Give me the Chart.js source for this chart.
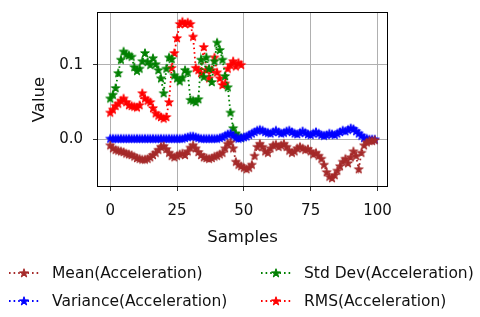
<!DOCTYPE html>
<html>
<head>
<meta charset="utf-8">
<script src="https://cdn.jsdelivr.net/npm/chart.js@4.4.1/dist/chart.umd.min.js"></script>
<style>
  body { margin: 0; background: #fff; }
  #wrap { position: relative; width: 480px; height: 317px; font-family: "DejaVu Sans", sans-serif; }
  #legend { position: absolute; left: 0; top: 0; width: 480px; height: 317px; pointer-events: none; }
  .item { position: absolute; display: flex; align-items: center; font-size: 15.5px; color: #111; white-space: nowrap; }
  .item canvas { margin-right: 12px; }
</style>
</head>
<body>
<div id="wrap">
  <canvas id="chart" width="480" height="317"></canvas>
  <div id="legend"></div>
</div>
<script>
// valores
const xTicks = [0, 25, 50, 75, 100];
const yTicks = [0.0, 0.1];

const meanAcc = [
  -0.008, -0.012, -0.014, -0.015, -0.016, -0.017, -0.019, -0.020, -0.021, -0.023,
  -0.025, -0.026, -0.027, -0.027, -0.026, -0.024, -0.021, -0.018, -0.014, -0.010,
  -0.009, -0.013, -0.018, -0.022, -0.024, -0.022, -0.020, -0.019, -0.021, -0.016,
  -0.011, -0.008, -0.012, -0.017, -0.021, -0.024, -0.025, -0.026, -0.025, -0.023,
  -0.022, -0.020, -0.018, -0.012, -0.006, -0.004, -0.012, -0.030, -0.034, -0.036,
  -0.038, -0.040, -0.038, -0.034, -0.022, -0.010, -0.006, -0.010, -0.016, -0.018,
  -0.012, -0.008, -0.007, -0.010, -0.008, -0.006, -0.010, -0.015, -0.018, -0.016,
  -0.012, -0.010, -0.012, -0.014, -0.013, -0.016, -0.020, -0.018, -0.022, -0.026,
  -0.034, -0.044, -0.050, -0.052, -0.048, -0.042, -0.036, -0.030, -0.026, -0.032,
  -0.024, -0.016, -0.022, -0.040, -0.018, -0.008, -0.004, -0.002, -0.002, -0.001
];

const varianceAcc = [
  0.001, 0.001, 0.001, 0.001, 0.001, 0.001, 0.001, 0.001, 0.001, 0.001,
  0.001, 0.001, 0.001, 0.001, 0.001, 0.001, 0.001, 0.001, 0.001, 0.001,
  0.001, 0.001, 0.001, 0.001, 0.001, 0.001, 0.001, 0.001, 0.002, 0.003,
  0.004, 0.004, 0.003, 0.002, 0.001, 0.001, 0.001, 0.001, 0.001, 0.001,
  0.001, 0.002, 0.003, 0.005, 0.007, 0.008, 0.005, 0.002, 0.001, 0.002,
  0.003, 0.004, 0.006, 0.008, 0.010, 0.012, 0.013, 0.012, 0.010, 0.009,
  0.008, 0.010, 0.012, 0.010, 0.008, 0.009, 0.011, 0.012, 0.010, 0.008,
  0.007, 0.009, 0.011, 0.009, 0.007, 0.006, 0.008, 0.010, 0.008, 0.006,
  0.005, 0.006, 0.008, 0.007, 0.006, 0.008, 0.010, 0.012, 0.011, 0.013,
  0.015, 0.014, 0.011, 0.008, 0.005, 0.002, 0.001, 0.000, 0.000, 0.000
];

const stdDevAcc = [
  0.055, 0.060, 0.069, 0.089, 0.107, 0.118, 0.114, 0.113, 0.111, 0.097,
  0.092, 0.095, 0.105, 0.116, 0.104, 0.100, 0.109, 0.101, 0.093, 0.082,
  0.062, 0.095, 0.110, 0.108, 0.086, 0.082, 0.078, 0.083, 0.093, 0.090,
  0.053, 0.052, 0.050, 0.054, 0.107, 0.084, 0.110, 0.095, 0.077, 0.105,
  0.130, 0.120, 0.107, 0.085, 0.070, 0.036, 0.015, 0.008, 0.004, 0.002
];

const rmsAcc = [
  0.036, 0.040, 0.045, 0.048, 0.052, 0.055, 0.050, 0.046, 0.045, 0.044,
  0.043, 0.046, 0.062, 0.055, 0.052, 0.050, 0.042, 0.035, 0.032, 0.030,
  0.028, 0.030, 0.050, 0.096, 0.116, 0.136, 0.155, 0.158, 0.155, 0.157,
  0.155, 0.138, 0.096, 0.093, 0.089, 0.124, 0.093, 0.082, 0.093, 0.110,
  0.090, 0.082, 0.073, 0.075, 0.095, 0.100, 0.105, 0.098, 0.103, 0.100
];

const seriesNames = ['Mean(Acceleration)', 'Variance(Acceleration)', 'Std Dev(Acceleration)', 'RMS(Acceleration)'];
const seriesColors = ['#a52a2a', '#0000ff', '#008000', '#ff0000'];
const seriesData = [meanAcc, varianceAcc, stdDevAcc, rmsAcc];

// estrella rellena tipo matplotlib '*'
function makeStar(color) {
  const c = document.createElement('canvas');
  c.width = 12; c.height = 12;
  const ctx = c.getContext('2d');
  const R = 4.6, r = R * 0.382;
  ctx.beginPath();
  for (let k = 0; k < 10; k++) {
    const rad = k % 2 === 0 ? R : r;
    const a = -Math.PI / 2 + k * Math.PI / 5;
    const px = 6 + rad * Math.cos(a), py = 6.3 + rad * Math.sin(a);
    if (k === 0) ctx.moveTo(px, py); else ctx.lineTo(px, py);
  }
  ctx.closePath();
  ctx.fillStyle = color;
  ctx.fill();
  ctx.lineWidth = 1;
  ctx.strokeStyle = color;
  ctx.stroke();
  return c;
}

const datasets = seriesData.map((arr, k) => ({
  label: seriesNames[k],
  data: arr.map((v, i) => ({ x: i, y: v })),
  borderColor: seriesColors[k],
  backgroundColor: seriesColors[k],
  borderWidth: 1.8,
  borderDash: [1.6, 3],
  pointStyle: makeStar(seriesColors[k]),
  tension: 0
}));

// marco completo del área del gráfico
const framePlugin = {
  id: 'frame',
  afterDraw(chart) {
    const { ctx, chartArea: a } = chart;
    ctx.save();
    ctx.strokeStyle = '#000';
    ctx.lineWidth = 1;
    ctx.strokeRect(a.left + 0.5, a.top + 0.5, a.right - a.left - 1, a.bottom - a.top - 1);
    ctx.restore();
  }
};

new Chart(document.getElementById('chart'), {
  type: 'line',
  data: { datasets },
  plugins: [framePlugin],
  options: {
    responsive: false,
    animation: false,
    layout: { padding: { left: 26, top: 12, right: 92, bottom: 65 } },
    plugins: { legend: { display: false }, tooltip: { enabled: false } },
    scales: {
      x: {
        type: 'linear',
        min: -4.95,
        max: 103.95,
        afterBuildTicks: s => { s.ticks = xTicks.map(v => ({ value: v })); },
        afterFit: s => { s.height = 65; s.paddingLeft = 0; s.paddingRight = 0; },
        grid: { color: '#b0b0b0', lineWidth: 1, tickLength: 4, tickColor: '#333' },
        border: { display: false },
        ticks: { font: { family: 'DejaVu Sans', size: 15 }, color: '#111', padding: 11, maxRotation: 0 },
        title: { display: true, text: 'Samples', font: { family: 'DejaVu Sans', size: 16.5 }, color: '#111' }
      },
      y: {
        min: -0.064,
        max: 0.171,
        afterBuildTicks: s => { s.ticks = yTicks.map(v => ({ value: v })); },
        afterFit: s => { s.width = 71; s.paddingTop = 0; s.paddingBottom = 0; },
        grid: { color: '#b0b0b0', lineWidth: 1, tickLength: 4, tickColor: '#333' },
        border: { display: false },
        ticks: { font: { family: 'DejaVu Sans', size: 15 }, color: '#111', padding: 10, callback: v => v.toFixed(1) },
        title: { display: true, text: 'Value', font: { family: 'DejaVu Sans', size: 16.5 }, color: '#111' }
      }
    }
  }
});

// leyenda en dos columnas como en matplotlib
const legend = document.getElementById('legend');
const slots = [[8, 273], [8, 301], [260, 273], [260, 301]];
seriesNames.forEach((name, k) => {
  const item = document.createElement('div');
  item.className = 'item';
  item.style.left = slots[k][0] + 'px';
  item.style.top = (slots[k][1] - 10) + 'px';
  item.style.height = '20px';
  const h = document.createElement('canvas');
  h.width = 32; h.height = 14;
  const hc = h.getContext('2d');
  hc.strokeStyle = seriesColors[k];
  hc.lineWidth = 1.8;
  hc.setLineDash([1.6, 3]);
  hc.beginPath(); hc.moveTo(1, 7); hc.lineTo(31, 7); hc.stroke();
  hc.drawImage(makeStar(seriesColors[k]), 10, 1);
  item.appendChild(h);
  const t = document.createElement('span');
  t.textContent = name;
  item.appendChild(t);
  legend.appendChild(item);
});
</script>
</body>
</html>
